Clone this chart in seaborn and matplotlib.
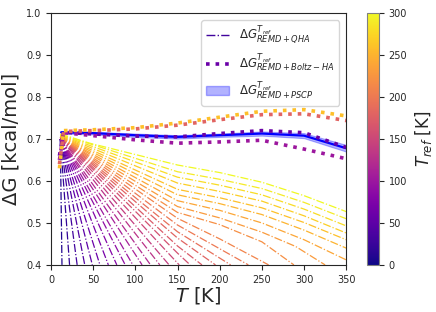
import numpy as np
import pandas as pd
import matplotlib
matplotlib.use("Agg")
import matplotlib.pyplot as plt
import seaborn as sns

sns.set_style("ticks")
plt.rcParams['font.family'] = ['DejaVu Sans']

# reference temperatures of the QHA extrapolations
qha_T_ref = [10, 20, 30, 40, 50, 60, 70, 80, 90, 100,
             110, 120, 130, 140, 150, 160, 170, 180, 190, 200,
             210, 220, 230, 240, 250, 260, 270, 280, 290, 300]
# knots of each QHA curve (T, dG)
qha_T = [
    [11, 13], [11, 22], [11, 31], [11, 40], [11, 49],
    [11, 58], [11, 68], [11, 78], [11, 88], [11, 97],
    [11, 108], [11, 118], [11, 129], [11, 140], [11, 152],
    [11, 150, 165], [11, 150, 179], [11, 150, 195], [11, 150, 213], [11, 150, 234],
    [11, 150, 200, 258], [11, 150, 200, 250, 288], [11, 150, 200, 250, 290, 325],
    [11, 150, 200, 250, 300, 350], [11, 150, 200, 250, 300, 350],
    [11, 150, 200, 250, 300, 350], [11, 150, 200, 250, 300, 350],
    [11, 150, 200, 250, 300, 350], [11, 150, 200, 250, 300, 350],
    [11, 46, 150, 200, 250, 300, 350],
]
qha_dG = [
    [0.70, 0.40], [0.70, 0.40], [0.70, 0.40], [0.70, 0.40], [0.70, 0.40],
    [0.70, 0.40], [0.70, 0.40], [0.70, 0.40], [0.70, 0.40], [0.70, 0.40],
    [0.70, 0.40], [0.70, 0.40], [0.703, 0.40], [0.704, 0.40], [0.705, 0.40],
    [0.705, 0.428, 0.40], [0.705, 0.445, 0.40], [0.705, 0.464, 0.40],
    [0.705, 0.479, 0.40], [0.705, 0.495, 0.40],
    [0.705, 0.511, 0.462, 0.40], [0.705, 0.525, 0.496, 0.455, 0.40],
    [0.706, 0.539, 0.512, 0.478, 0.444, 0.40],
    [0.706, 0.553, 0.530, 0.500, 0.460, 0.412], [0.707, 0.567, 0.546, 0.520, 0.483, 0.440],
    [0.708, 0.580, 0.560, 0.536, 0.501, 0.460], [0.709, 0.595, 0.575, 0.552, 0.517, 0.476],
    [0.710, 0.609, 0.590, 0.567, 0.533, 0.493], [0.711, 0.622, 0.604, 0.582, 0.549, 0.510],
    [0.712, 0.690, 0.638, 0.620, 0.597, 0.565, 0.527],
]

# Boltzmann-weighted harmonic curves
boltz_T_ref = [60, 100, 180, 260]
boltz_T = [10, 15, 50, 100, 150, 200, 250, 300, 350]
boltz_dG = [
    [0.66, 0.716, 0.712, 0.707, 0.705, 0.713, 0.720, 0.715, 0.680],
    [0.65, 0.715, 0.708, 0.698, 0.690, 0.693, 0.697, 0.676, 0.653],
    [0.64, 0.718, 0.720, 0.724, 0.733, 0.746, 0.758, 0.760, 0.744],
    [0.63, 0.720, 0.722, 0.727, 0.738, 0.752, 0.766, 0.770, 0.755],
]

# PSCP curve with its uncertainty band
pscp_T = [12, 50, 100, 150, 200, 250, 300, 350]
pscp_dG = [0.716, 0.714, 0.709, 0.705, 0.709, 0.713, 0.708, 0.678]
pscp_err = [0.003, 0.003, 0.004, 0.004, 0.004, 0.005, 0.006, 0.008]

# build long tables for seaborn
qha_rows = []
for tr, ts, gs in zip(qha_T_ref, qha_T, qha_dG):
    for t, g in zip(ts, gs):
        qha_rows.append((tr, t, g))
qha_df = pd.DataFrame(qha_rows, columns=['T_ref', 'T', 'dG'])

boltz_rows = []
for tr, gs in zip(boltz_T_ref, boltz_dG):
    for t, g in zip(boltz_T, gs):
        boltz_rows.append((tr, t, g))
boltz_df = pd.DataFrame(boltz_rows, columns=['T_ref', 'T', 'dG'])

norm = plt.Normalize(0, 300)

fig = plt.figure(figsize=(4.36, 3.12), dpi=100)
ax = fig.add_axes([0.117, 0.151, 0.677, 0.807])
cax = fig.add_axes([0.842, 0.151, 0.027, 0.807])

sns.lineplot(data=qha_df, x='T', y='dG', hue='T_ref', palette='plasma', hue_norm=norm,
             estimator=None, sort=False, linestyle='-.', lw=0.9, legend=False, ax=ax)

pscp_lo = np.array(pscp_dG) - np.array(pscp_err)
pscp_hi = np.array(pscp_dG) + np.array(pscp_err)
ax.fill_between(pscp_T, pscp_lo, pscp_hi, color='blue', alpha=0.3, lw=0.8)
ax.plot(pscp_T, pscp_dG, color='blue', lw=1.6)

sns.lineplot(data=boltz_df, x='T', y='dG', hue='T_ref', palette='plasma', hue_norm=norm,
             estimator=None, sort=False, linestyle=':', lw=2.6, legend=False, ax=ax)

ax.set_xlim(0, 350)
ax.set_ylim(0.4, 1.0)
ax.set_xticks(range(0, 351, 50))
ax.set_yticks(np.arange(0.4, 1.01, 0.1))
ax.tick_params(labelsize=7)
ax.set_xlabel('$T$ [K]', fontsize=14, labelpad=0)
ax.set_ylabel('ΔG [kcal/mol]', fontsize=14, labelpad=4)

cmap = plt.get_cmap('plasma')
h_qha = plt.Line2D([], [], color=cmap(0.1), linestyle='-.', lw=1.0)
h_boltz = plt.Line2D([], [], color=cmap(0.2), linestyle=':', lw=2.6)
h_pscp = matplotlib.patches.Patch(facecolor='blue', alpha=0.3, edgecolor='blue')
ax.legend([h_qha, h_boltz, h_pscp],
          [r'$\Delta G^{T_{ref}}_{REMD+QHA}$',
           r'$\Delta G^{T_{ref}}_{REMD+Boltz-HA}$',
           r'$\Delta G^{T_{ref}}_{REMD+PSCP}$'],
          loc='upper right', fontsize=8.5, labelspacing=0.5, borderaxespad=0.6)

sm = matplotlib.cm.ScalarMappable(norm=norm, cmap='plasma')
cb = fig.colorbar(sm, cax=cax, ticks=range(0, 301, 50))
cb.ax.tick_params(labelsize=7)
cb.set_label('$T_{ref}$ [K]', fontsize=12)
cb.outline.set_edgecolor('0.5')

fig.savefig('out.png', dpi=100)
